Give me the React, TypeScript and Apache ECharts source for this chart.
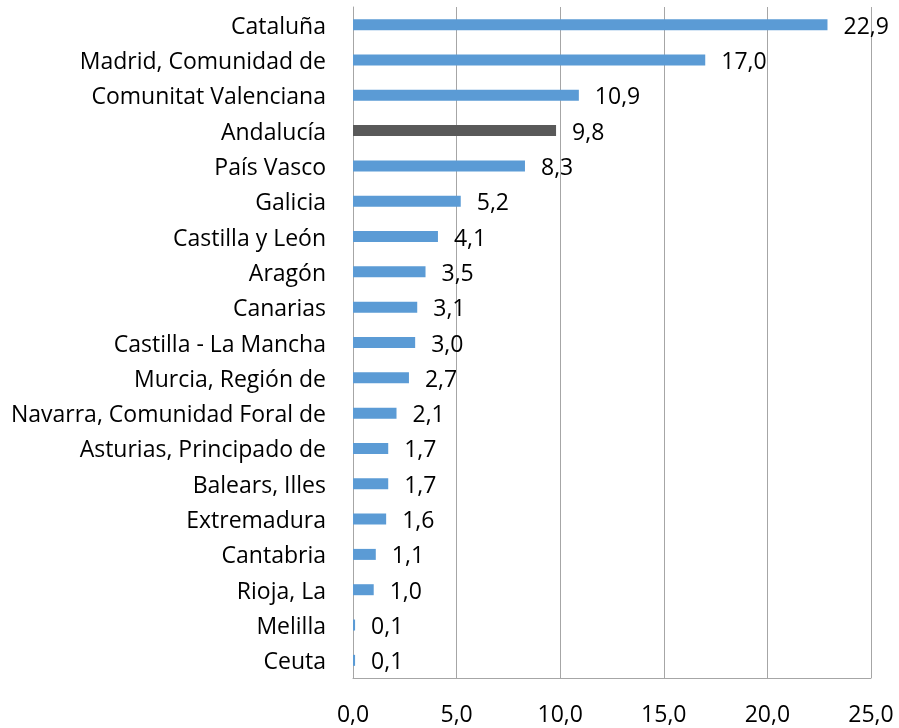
import React, { useEffect, useRef } from "react";
import * as echarts from "echarts";

const categories = [
  "Cataluña",
  "Madrid, Comunidad de",
  "Comunitat Valenciana",
  "Andalucía",
  "País Vasco",
  "Galicia",
  "Castilla y León",
  "Aragón",
  "Canarias",
  "Castilla - La Mancha",
  "Murcia, Región de",
  "Navarra, Comunidad Foral de",
  "Asturias, Principado de",
  "Balears, Illes",
  "Extremadura",
  "Cantabria",
  "Rioja, La",
  "Melilla",
  "Ceuta",
];
const values = [22.9, 17.0, 10.9, 9.8, 8.3, 5.2, 4.1, 3.5, 3.1, 3.0, 2.7, 2.1, 1.7, 1.7, 1.6, 1.1, 1.0, 0.1, 0.1];
const highlight = "Andalucía";

const FONT = "'Open Sans', sans-serif";
const FS = 23;

export default function App() {
  const ref = useRef<HTMLDivElement>(null);
  useEffect(() => {
    if (!ref.current) return;
    const chart = echarts.init(ref.current, null, { renderer: "svg" });
    chart.setOption({
      animation: false,
      grid: { left: 353, top: 7, width: 518, height: 671, containLabel: false },
      xAxis: {
        type: "value",
        min: 0,
        max: 25,
        interval: 5,
        axisLine: { show: true, lineStyle: { color: "#a6a6a6", width: 1 } },
        axisTick: { show: false },
        splitLine: { show: true, lineStyle: { color: "#a6a6a6", width: 1 } },
        axisLabel: {
          color: "#000",
          fontFamily: FONT,
          fontSize: FS,
          margin: 23,
          formatter: (v: number) => v.toFixed(1).replace(".", ","),
        },
      },
      yAxis: {
        type: "category",
        inverse: true,
        data: categories,
        axisLine: { show: true, lineStyle: { color: "#a6a6a6", width: 1 } },
        axisTick: { show: false },
        axisLabel: { color: "#000", fontFamily: FONT, fontSize: FS, margin: 27 },
      },
      series: [
        {
          type: "bar",
          data: values.map((v, i) => ({
            value: v,
            itemStyle: { color: categories[i] === highlight ? "#595959" : "#5b9bd5" },
          })),
          barWidth: 11,
          label: {
            show: true,
            position: "right",
            distance: 16,
            color: "#000",
            fontFamily: FONT,
            fontSize: FS,
            formatter: (p: any) => p.value.toFixed(1).replace(".", ","),
          },
        },
      ],
    });
    return () => chart.dispose();
  }, []);
  return <div ref={ref} style={{ position: "fixed", left: 0, top: 0, width: 899, height: 728 }} />;
}
